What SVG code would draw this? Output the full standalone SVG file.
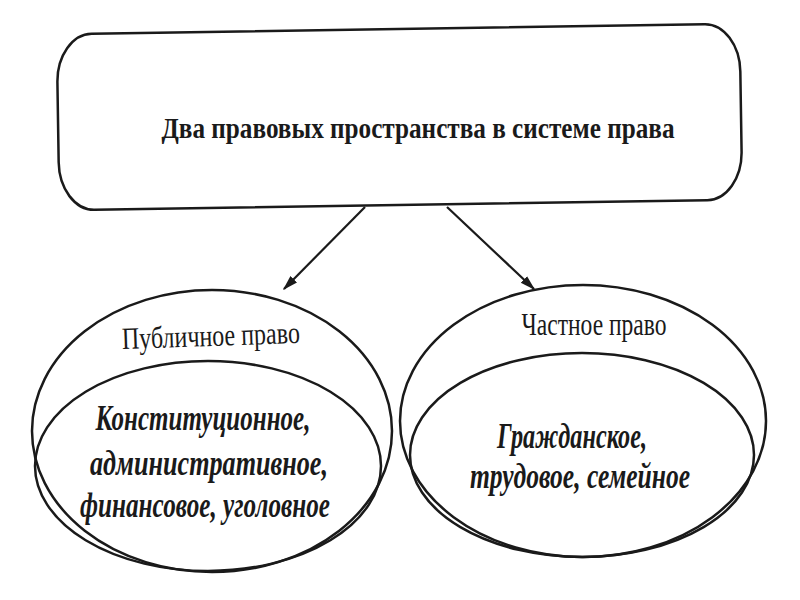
<svg xmlns="http://www.w3.org/2000/svg" width="800" height="600" viewBox="0 0 800 600">
<defs>
<style>
.shape{fill:none;stroke:#1a1a1a;stroke-width:2.5}
.title{font-family:"Liberation Serif","DejaVu Serif",serif;font-weight:bold;font-size:30px;fill:#1a1a1a}
.label{font-family:"Liberation Serif","DejaVu Serif",serif;font-size:31px;fill:#1a1a1a}
.items{font-family:"Liberation Serif","DejaVu Serif",serif;font-weight:bold;font-style:italic;font-size:36px;fill:#1a1a1a}
.conn{stroke:#1a1a1a;stroke-width:2.2;fill:none}
</style>
<marker id="arr" viewBox="0 0 10 10" refX="9" refY="5" markerWidth="7" markerHeight="7" orient="auto" markerUnits="strokeWidth">
<path d="M0,2 L10,5 L0,8 z" fill="#1a1a1a"/>
</marker>
</defs>
<rect width="800" height="600" fill="#ffffff"/>
<g id="root">
<rect class="shape" x="58" y="29" width="683" height="176" rx="35" ry="48" transform="rotate(-0.9 399 117)"/>
<text class="title" x="418" y="138" text-anchor="middle" textLength="513" lengthAdjust="spacingAndGlyphs">Два правовых пространства в системе права</text>
</g>
<g id="connectors">
<line class="conn" x1="365" y1="207" x2="284" y2="289" marker-end="url(#arr)"/>
<line class="conn" x1="447" y1="207" x2="534" y2="289" marker-end="url(#arr)"/>
</g>
<g id="public">
<ellipse class="shape" cx="212" cy="431" rx="180" ry="141"/>
<ellipse class="shape" cx="208" cy="466" rx="173" ry="105"/>
<text class="label" x="211" y="346" text-anchor="middle" textLength="178" lengthAdjust="spacingAndGlyphs" transform="rotate(-2 211 340)">Публичное право</text>
<text class="items" x="203" y="430" text-anchor="middle" textLength="215" lengthAdjust="spacingAndGlyphs">Конституционное,</text>
<text class="items" x="209" y="475" text-anchor="middle" textLength="238" lengthAdjust="spacingAndGlyphs">административное,</text>
<text class="items" x="205" y="517" text-anchor="middle" textLength="250" lengthAdjust="spacingAndGlyphs">финансовое, уголовное</text>
</g>
<g id="private">
<ellipse class="shape" cx="583" cy="421" rx="183" ry="136"/>
<ellipse class="shape" cx="582" cy="455" rx="172" ry="102"/>
<text class="label" x="594" y="335" text-anchor="middle" textLength="145" lengthAdjust="spacingAndGlyphs">Частное право</text>
<text class="items" x="572" y="448" text-anchor="middle" textLength="150" lengthAdjust="spacingAndGlyphs">Гражданское,</text>
<text class="items" x="580" y="488" text-anchor="middle" textLength="220" lengthAdjust="spacingAndGlyphs">трудовое, семейное</text>
</g>
</svg>
